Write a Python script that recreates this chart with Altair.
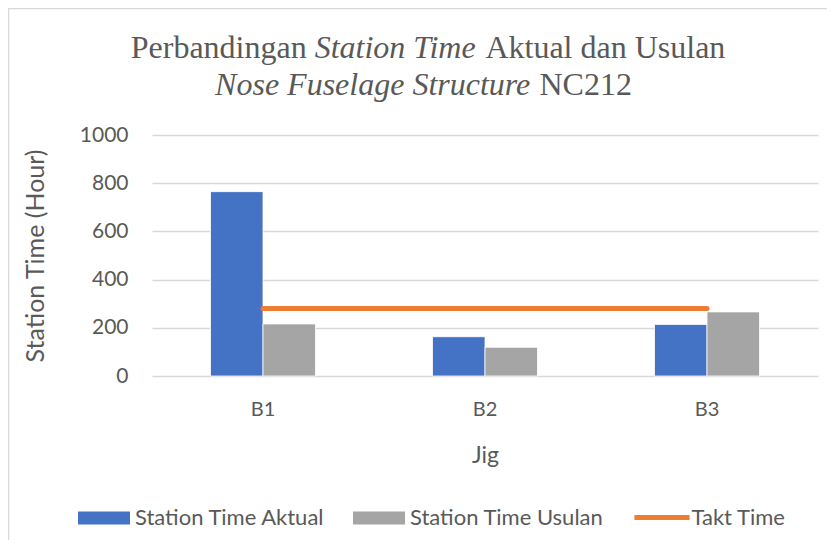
import altair as alt
import pandas as pd

# ---- data ----
jigs = ["B1", "B2", "B3"]
aktual = [765, 163, 214]
usulan = [216, 119, 266]
takt = [280, 280, 280]
bar_series = ["Station Time Aktual", "Station Time Usulan"]
bar_colors = ["#4472C4", "#A5A5A5"]
line_series = ["Takt Time"]
line_colors = ["#ED7D31"]
y_ticks = [0, 200, 400, 600, 800, 1000]

title_line1 = ["Perbandingan", "Station Time", "Aktual dan Usulan"]
title_line2 = ["Nose Fuselage Structure", "NC212"]

bars_df = pd.DataFrame({
    "Jig": jigs * 2,
    "series": [bar_series[0]] * 3 + [bar_series[1]] * 3,
    "value": aktual + usulan,
})
line_df = pd.DataFrame({"Jig": jigs, "series": line_series * 3, "value": takt})

TEXT = "#595959"
SANS = "Lato"
SERIF = "Liberation Serif"

bar_legend = alt.Legend(
    title=None, orient="none", direction="horizontal",
    legendX=-74, legendY=357, padding=0,
    labelFont=SANS, labelFontSize=22, labelColor=TEXT, labelOffset=5, labelLimit=400,
    columnPadding=28, symbolType="M-1,-0.25H1V0.25H-1Z", symbolSize=2704,
    symbolStrokeWidth=0, symbolOpacity=1,
)
line_legend = alt.Legend(
    title=None, orient="none", direction="horizontal",
    legendX=481.5, legendY=354, padding=0,
    labelFont=SANS, labelFontSize=22, labelColor=TEXT, labelOffset=1, labelLimit=400,
    symbolType="M-1.06,0H1.06", symbolSize=2704, symbolStrokeWidth=5,
    symbolFillColor="transparent", symbolOpacity=1,
)

x_enc = alt.X("Jig:N", sort=jigs,
              scale=alt.Scale(paddingInner=0.527, paddingOuter=0.2635),
              axis=alt.Axis(title="Jig", labelAngle=0, ticks=False, tickSize=0, domain=False,
                            labelFont=SANS, labelFontSize=20, labelColor=TEXT,
                            labelPadding=33, labelBaseline="middle",
                            titleFont=SANS, titleFontSize=23, titleColor=TEXT,
                            titleFontWeight="normal", titleY=79, titleBaseline="middle"))
y_enc = alt.Y("value:Q",
              scale=alt.Scale(domain=[0, 1000], nice=False),
              axis=alt.Axis(title="Station Time (Hour)", values=y_ticks, format="d",
                            ticks=False, tickSize=0,
                            domain=False, grid=True, gridColor="#D9D9D9", gridWidth=1.4,
                            labelFont=SANS, labelFontSize=21, labelColor=TEXT, labelPadding=24,
                            titleFont=SANS, titleFontSize=25, titleColor=TEXT,
                            titleFontWeight="normal", titleX=-117, titleY=120.5,
                            titleAngle=-90, titleAlign="center", titleBaseline="middle"))

bars = alt.Chart(bars_df).mark_bar(stroke="#ffffff", strokeWidth=0.8).encode(
    x=x_enc,
    xOffset=alt.XOffset("series:N", sort=bar_series, scale=alt.Scale(paddingInner=0, paddingOuter=0)),
    y=y_enc,
    fill=alt.Fill("series:N", scale=alt.Scale(domain=bar_series, range=bar_colors), legend=bar_legend),
)

line = alt.Chart(line_df).mark_line(strokeWidth=5, strokeCap="round").encode(
    x=alt.X("Jig:N", sort=jigs),
    y=alt.Y("value:Q"),
    stroke=alt.Stroke("series:N", scale=alt.Scale(domain=line_series, range=line_colors), legend=line_legend),
)

one = pd.DataFrame({"a": [0]})
frame = alt.Chart(one).mark_rect(fill="transparent", stroke="#D9D9D9", strokeWidth=1.5).encode(
    x=alt.value(-143.5), x2=alt.value(700), y=alt.value(-126.5), y2=alt.value(500))


def seg(text, x, y, align, italic):
    return alt.Chart(one).mark_text(
        font=SERIF, fontSize=32, color=TEXT, align=align, baseline="alphabetic",
        fontStyle="italic" if italic else "normal",
    ).encode(x=alt.value(x), y=alt.value(y), text=alt.value(text))


titles = [
    seg(title_line1[0], 154.7, -77.5, "right", False),
    seg(title_line1[1], 162.7, -77.5, "left", True),
    seg(title_line1[2], 333.4, -77.5, "left", False),
    seg(title_line2[0], 63.1, -40, "left", True),
    seg(title_line2[1], 387.5, -40, "left", False),
]

chart = alt.layer(frame, bars, line, *titles).properties(
    width=666, height=241,
    autosize=alt.AutoSizeParams(type="none"),
    padding={"left": 144, "top": 127, "right": 9, "bottom": 164},
).resolve_scale(color="independent").configure_view(stroke=None)

chart.save("out.html", embed_options={"renderer": "svg", "actions": False})
